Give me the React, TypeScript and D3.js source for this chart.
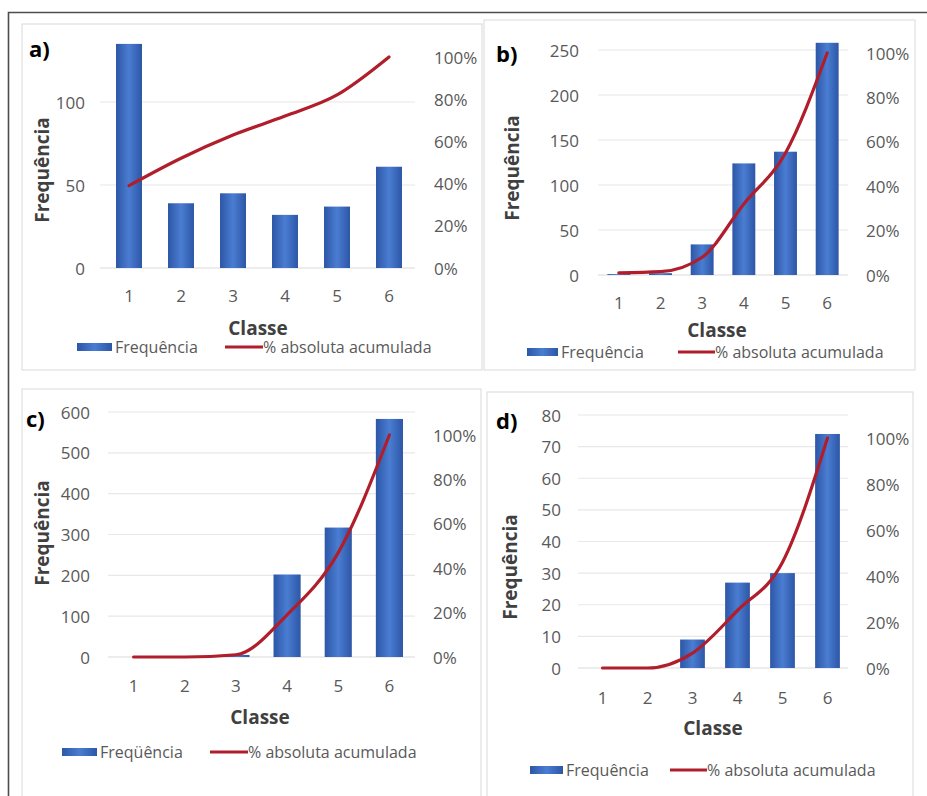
import React from "react";
import * as d3 from "d3";

// Classes on the x axis (shared by all four charts)
const classes = ["1", "2", "3", "4", "5", "6"];

// a) frequencies and accumulated absolute percentage
const freqA = [135, 39, 45, 32, 37, 61];
const cumA = [39, 52, 63, 72, 82, 100];
const ticksA = [0, 50, 100];

// b)
const freqB = [1, 2, 34, 124, 137, 258];
const cumB = [1, 1.5, 8, 32, 55, 100];
const ticksB = [0, 50, 100, 150, 200, 250];

// c)
const freqC = [0, 0, 5, 202, 317, 583];
const cumC = [0, 0, 1, 19, 47, 100];
const ticksC = [0, 100, 200, 300, 400, 500, 600];

// d)
const freqD = [0, 0, 9, 27, 30, 74];
const cumD = [0, 0, 6.5, 25, 46, 100];
const ticksD = [0, 10, 20, 30, 40, 50, 60, 70, 80];

// Right-hand percentage axis
const pctTicks = [0, 20, 40, 60, 80, 100];

const FONT = "'Open Sans', 'Noto Sans', sans-serif";
const TICK = "#595959";
const TITLE = "#404040";
const LINE = "#b01e2c";

type Layout = {
  box: [number, number, number, number];
  letter: string;
  letterPos: [number, number];
  band: [number, number];
  padding: number;
  grid: [number, number];
  yZero: number;
  yRef: [number, number]; // [value, pixel] of a reference tick
  pctTop: number;
  leftLabelX: number;
  rightLabelX: number;
  xTickY: number;
  classe: [number, number];
  title: [number, number];
  legendY: number;
  legendRect: [number, number];
  legendLine: [number, number];
  legendName: string;
};

type PanelProps = {
  freq: number[];
  cum: number[];
  ticks: number[];
  layout: Layout;
};

function Panel({ freq, cum, ticks, layout: L }: PanelProps) {
  const x = d3
    .scaleBand<string>()
    .domain(classes)
    .range(L.band)
    .paddingInner(L.padding)
    .paddingOuter(L.padding / 2);
  const y = d3.scaleLinear().domain([0, L.yRef[0]]).range([L.yZero, L.yRef[1]]);
  const yPct = d3.scaleLinear().domain([0, 100]).range([L.yZero, L.pctTop]);
  const line = d3
    .line<number>()
    .x((_, i) => (x(classes[i]) as number) + x.bandwidth() / 2)
    .y((v) => yPct(v))
    .curve(d3.curveMonotoneX);

  const [bx, by, bw, bh] = L.box;
  return (
    <g>
      <rect x={bx} y={by} width={bw} height={bh} fill="#fff" stroke="#d9d9d9" strokeWidth={1} />
      {ticks.map((t) => (
        <line
          key={"g" + t}
          x1={L.grid[0]}
          x2={L.grid[1]}
          y1={y(t)}
          y2={y(t)}
          stroke={t === 0 ? "#d9d9d9" : "#e8e8e8"}
          strokeWidth={1.2}
        />
      ))}
      {ticks.map((t) => (
        <text
          key={"l" + t}
          x={L.leftLabelX}
          y={y(t)}
          textAnchor="end"
          dominantBaseline="central"
          fontSize={17}
          fill={TICK}
        >
          {t}
        </text>
      ))}
      {pctTicks.map((t) => (
        <text
          key={"r" + t}
          x={L.rightLabelX}
          y={yPct(t)}
          dominantBaseline="central"
          fontSize={17}
          fill={TICK}
        >
          {t + "%"}
        </text>
      ))}
      {freq.map((v, i) => (
        <rect
          key={"b" + i}
          x={x(classes[i])}
          y={y(v)}
          width={x.bandwidth()}
          height={L.yZero - y(v)}
          fill="url(#barFill)"
        />
      ))}
      <path d={line(cum) || ""} fill="none" stroke={LINE} strokeWidth={3.2} strokeLinejoin="round" strokeLinecap="round" />
      {classes.map((c) => (
        <text
          key={"x" + c}
          x={(x(c) as number) + x.bandwidth() / 2}
          y={L.xTickY}
          textAnchor="middle"
          dominantBaseline="central"
          fontSize={17}
          fill={TICK}
        >
          {c}
        </text>
      ))}
      <text
        x={L.classe[0]}
        y={L.classe[1]}
        textAnchor="middle"
        dominantBaseline="central"
        fontSize={19}
        fontWeight="bold"
        fill={TITLE}
      >
        Classe
      </text>
      <text
        transform={`translate(${L.title[0]},${L.title[1]}) rotate(-90)`}
        textAnchor="middle"
        dominantBaseline="central"
        fontSize={19}
        fontWeight="bold"
        fill={TITLE}
      >
        Frequência
      </text>
      <text x={L.letterPos[0]} y={L.letterPos[1]} fontSize={22} fontWeight="bold" fill="#000">
        {L.letter}
      </text>
      <rect
        x={L.legendRect[0]}
        y={L.legendY - 4}
        width={L.legendRect[1] - L.legendRect[0]}
        height={8}
        fill="url(#barFill)"
      />
      <text x={L.legendRect[1] + 3} y={L.legendY} dominantBaseline="central" fontSize={16} fill={TICK}>
        {L.legendName}
      </text>
      <line
        x1={L.legendLine[0]}
        x2={L.legendLine[1]}
        y1={L.legendY}
        y2={L.legendY}
        stroke={LINE}
        strokeWidth={3.2}
      />
      <text x={L.legendLine[1]} y={L.legendY} dominantBaseline="central" fontSize={16} fill={TICK}>
        % absoluta acumulada
      </text>
    </g>
  );
}

const layoutA: Layout = {
  box: [22, 24, 460, 346],
  letter: "a)",
  letterPos: [29, 57],
  band: [103, 415],
  padding: 0.5,
  grid: [100, 415],
  yZero: 268,
  yRef: [100, 102],
  pctTop: 57,
  leftLabelX: 85,
  rightLabelX: 434,
  xTickY: 295,
  classe: [258, 328],
  title: [42, 170],
  legendY: 347,
  legendRect: [77, 112],
  legendLine: [225, 263],
  legendName: "Frequência",
};

const layoutB: Layout = {
  box: [484, 20, 431, 350],
  letter: "b)",
  letterPos: [496, 62],
  band: [598, 848],
  padding: 0.45,
  grid: [598, 848],
  yZero: 275,
  yRef: [250, 50],
  pctTop: 53,
  leftLabelX: 579,
  rightLabelX: 866,
  xTickY: 302,
  classe: [717, 330],
  title: [512, 168],
  legendY: 352,
  legendRect: [527, 558],
  legendLine: [678, 715],
  legendName: "Frequência",
};

const layoutC: Layout = {
  box: [22, 389, 459, 420],
  letter: "c)",
  letterPos: [26, 427],
  band: [108, 415],
  padding: 0.47,
  grid: [108, 415],
  yZero: 657,
  yRef: [600, 412],
  pctTop: 435,
  leftLabelX: 90,
  rightLabelX: 433,
  xTickY: 685,
  classe: [260, 717],
  title: [42, 533],
  legendY: 752,
  legendRect: [62, 97],
  legendLine: [210, 248],
  legendName: "Freqüência",
};

const layoutD: Layout = {
  box: [487, 392, 426, 420],
  letter: "d)",
  letterPos: [496, 429],
  band: [580, 850],
  padding: 0.45,
  grid: [578, 848],
  yZero: 668,
  yRef: [80, 415],
  pctTop: 438,
  leftLabelX: 561,
  rightLabelX: 866,
  xTickY: 697,
  classe: [713, 728],
  title: [510, 567],
  legendY: 770,
  legendRect: [530, 563],
  legendLine: [670, 707],
  legendName: "Frequência",
};

export default function App() {
  return (
    <svg
      width={927}
      height={796}
      style={{ position: "absolute", left: 0, top: 0, fontFamily: FONT, background: "#fff" }}
    >
      <defs>
        <linearGradient id="barFill" x1="0" x2="1" y1="0" y2="0">
          <stop offset="0%" stopColor="#2d56a6" />
          <stop offset="50%" stopColor="#4a7dd2" />
          <stop offset="100%" stopColor="#2d56a6" />
        </linearGradient>
      </defs>
      <rect x={0} y={0} width={927} height={796} fill="#fff" />
      {/* outer frame */}
      <path d="M8.5,800 V12.5 H930" fill="none" stroke="#4d4d4d" strokeWidth={1.6} />
      <Panel freq={freqA} cum={cumA} ticks={ticksA} layout={layoutA} />
      <Panel freq={freqB} cum={cumB} ticks={ticksB} layout={layoutB} />
      <Panel freq={freqC} cum={cumC} ticks={ticksC} layout={layoutC} />
      <Panel freq={freqD} cum={cumD} ticks={ticksD} layout={layoutD} />
    </svg>
  );
}
